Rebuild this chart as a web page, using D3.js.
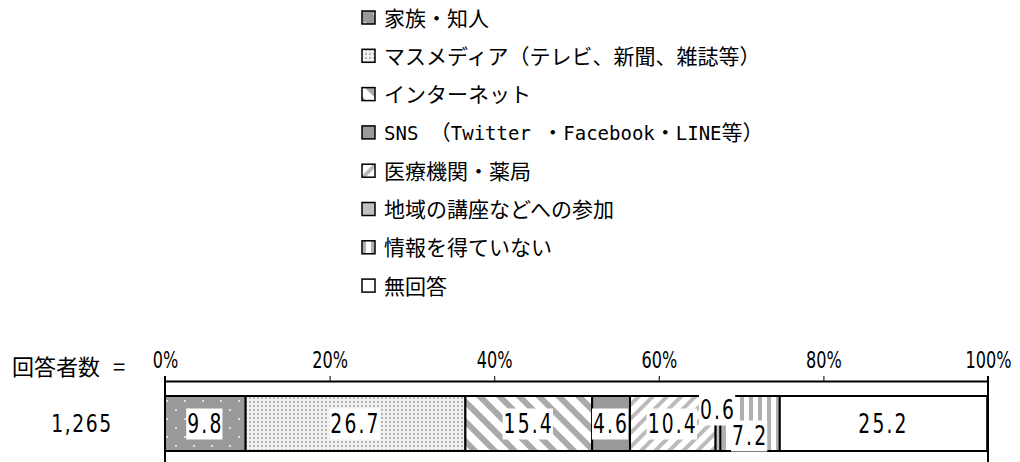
<!DOCTYPE html>
<html>
<head>
<meta charset="utf-8">
<script src="https://cdn.jsdelivr.net/npm/d3@7/dist/d3.min.js"></script>
<style>
  html, body { margin: 0; padding: 0; background: #fff; }
  svg { display: block; }
  text { font-family: "Noto Sans CJK JP", sans-serif; fill: #000; }
  .num { font-family: "DejaVu Sans", sans-serif; }
</style>
</head>
<body>
<svg id="chart" width="1020" height="462"></svg>
<script>
// ─── data ───────────────────────────────────────────
const categories = [
  '家族・知人',
  'マスメディア（テレビ、新聞、雑誌等）',
  'インターネット',
  'SNS （Twitter ・Facebook・LINE等）',
  '医療機関・薬局',
  '地域の講座などへの参加',
  '情報を得ていない',
  '無回答'
];
const values = [9.8, 26.7, 15.4, 4.6, 10.4, 0.6, 7.2, 25.2];
const respondents = '1,265';
const ticks = [0, 20, 40, 60, 80, 100];

// label nudges for the thin segments (0.6 up, 7.2 down)
const labelShift = [0, 0, 0, 0, 0, -14, 12, 0];

const svg = d3.select('#chart');
const defs = svg.append('defs');

// ─── patterns ───────────────────────────────────────
function pat(id, w, h, draw, transform) {
  const p = defs.append('pattern').attr('id', id)
    .attr('patternUnits', 'userSpaceOnUse').attr('width', w).attr('height', h);
  if (transform) p.attr('patternTransform', transform);
  draw(p);
}
pat('p0', 18, 18, p => {
  p.append('rect').attr('width', 18).attr('height', 18).attr('fill', '#999');
  p.append('rect').attr('x', 4).attr('y', 4).attr('width', 2).attr('height', 2).attr('fill', '#ddd');
  p.append('rect').attr('x', 13).attr('y', 13).attr('width', 2).attr('height', 2).attr('fill', '#ddd');
});
pat('p1', 4, 4, p => {
  p.append('rect').attr('width', 4).attr('height', 4).attr('fill', '#f2f2f2');
  p.append('rect').attr('x', 1).attr('y', 1).attr('width', 2).attr('height', 2).attr('fill', '#b5b5b5');
});
pat('p2', 14, 14, p => {
  p.append('rect').attr('width', 14).attr('height', 14).attr('fill', '#fff');
  p.append('rect').attr('width', 6).attr('height', 14).attr('fill', '#aaa');
}, 'rotate(-45)');
pat('p4', 10, 10, p => {
  p.append('rect').attr('width', 10).attr('height', 10).attr('fill', '#fff');
  p.append('rect').attr('width', 4).attr('height', 10).attr('fill', '#bbb');
}, 'rotate(45)');
pat('p6', 9, 9, p => {
  p.append('rect').attr('width', 9).attr('height', 9).attr('fill', '#fff');
  p.append('rect').attr('x', 2).attr('width', 4).attr('height', 9).attr('fill', '#b0b0b0');
});
const fills = ['url(#p0)', 'url(#p1)', 'url(#p2)', '#999', 'url(#p4)', '#c0c0c0', 'url(#p6)', '#fff'];

// ─── legend ─────────────────────────────────────────
// latin runs get a mono face so they sit at half width like the original
function richText(sel, str) {
  str.split(/([A-Za-z ]+)/).filter(s => s).forEach(part => {
    const latin = /^[A-Za-z ]+$/.test(part);
    sel.append('tspan')
      .attr('font-family', latin ? '"DejaVu Sans Mono", monospace' : null)
      .attr('font-size', latin ? 19 : null)
      .text(part);
  });
}

const legend = svg.append('g');
categories.forEach((c, i) => {
  const y = 18 + i * 38.3;
  legend.append('rect')
    .attr('x', 362).attr('y', y - 7).attr('width', 13).attr('height', 13)
    .attr('fill', fills[i]).attr('stroke', '#000').attr('stroke-width', 1.5);
  const t = legend.append('text')
    .attr('x', 384).attr('y', y).attr('dy', '0.36em')
    .attr('font-size', 21).style('white-space', 'pre');
  richText(t, c);
});

// ─── axis + bar ─────────────────────────────────────
const x = d3.scaleLinear().domain([0, 100]).range([165, 988]);
const axisY = 381, barTop = 396, barH = 55;

svg.append('text').attr('x', 12).attr('y', 367).attr('dy', '0.36em')
  .attr('font-size', 22).text('回答者数');
svg.append('text').attr('x', 113).attr('y', 367).attr('dy', '0.36em')
  .attr('font-size', 22).text('=');
svg.append('g').attr('transform', `translate(82,${barTop + barH / 2})`)
  .append('text').attr('class', 'num').attr('dy', '0.36em')
  .attr('transform', 'scale(0.78,1)').attr('letter-spacing', 2)
  .attr('text-anchor', 'middle').attr('font-size', 24).text(respondents);

const axis = svg.append('g').attr('transform', `translate(0,${axisY})`)
  .call(d3.axisTop(x).tickValues(ticks).tickSize(5).tickSizeOuter(0).tickFormat(d => d + '%'));
axis.select('.domain').attr('stroke', '#000').attr('stroke-width', 2);
axis.selectAll('.tick line').attr('stroke', '#000').attr('stroke-width', 1);
axis.attr('font-family', null).attr('font-size', null);
axis.selectAll('.tick text').attr('class', 'num').attr('font-size', 23)
  .attr('y', -13).attr('transform', 'scale(0.7,1)');

// frame lines down from the axis
[0, 100].forEach(v => {
  svg.append('line').attr('x1', x(v)).attr('x2', x(v)).attr('y1', axisY - 5).attr('y2', 462)
    .attr('stroke', '#000').attr('stroke-width', 2);
});

let acc = 0;
const segs = values.map((v, i) => { const s = { v, i, x0: acc }; acc += v; return s; });

const bar = svg.append('g');
bar.selectAll('rect').data(segs).join('rect')
  .attr('x', d => x(d.x0)).attr('y', barTop)
  .attr('width', d => x(d.x0 + d.v) - x(d.x0)).attr('height', barH)
  .attr('fill', d => fills[d.i]).attr('stroke', '#000').attr('stroke-width', 2);

const sx = 0.72;
const labels = svg.append('g');
segs.forEach(d => {
  const cx = (x(d.x0) + x(d.x0 + d.v)) / 2;
  const cy = barTop + barH / 2 + labelShift[d.i];
  const g = labels.append('g').attr('transform', `translate(${cx},${cy})`);
  const t = g.append('text').attr('class', 'num').attr('dy', '0.36em')
    .attr('transform', `scale(${sx},1)`).attr('letter-spacing', 3)
    .attr('text-anchor', 'middle').attr('font-size', 26)
    .text(d.v.toFixed(1));
  const b = t.node().getBBox();
  if (d.i !== 7) {
    g.insert('rect', 'text').attr('x', b.x * sx - 1).attr('y', -15)
      .attr('width', b.width * sx).attr('height', 31).attr('fill', '#fff');
  }
});
</script>
</body>
</html>
